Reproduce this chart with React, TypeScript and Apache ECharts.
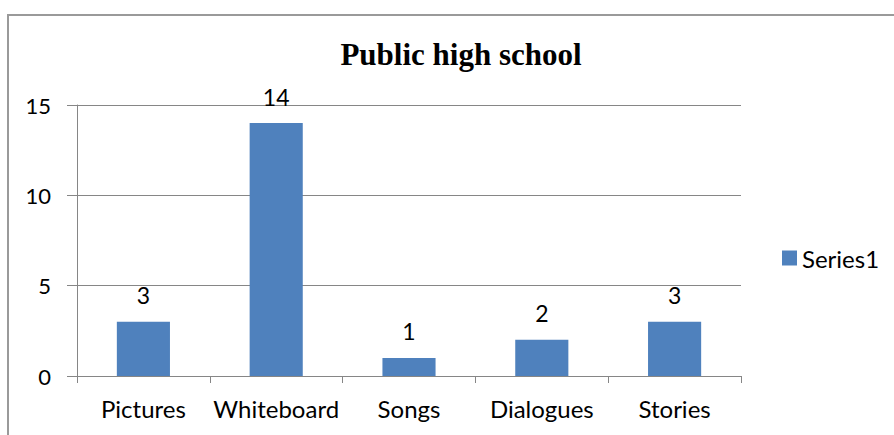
import React, { useEffect, useRef } from "react";
import * as echarts from "echarts";

const categories = ["Pictures", "Whiteboard", "Songs", "Dialogues", "Stories"];
const series1 = [3, 14, 1, 2, 3];
const yTicks = { min: 0, max: 15, interval: 5 };
const titleText = "Public high school";
const seriesName = "Series1";

export default function App() {
  const ref = useRef<HTMLDivElement>(null);
  useEffect(() => {
    if (!ref.current) return;
    const chart = echarts.init(ref.current, null, { renderer: "svg" });
    const sans = "Lato, Carlito, Calibri, sans-serif";
    chart.setOption({
      animation: false,
      backgroundColor: "#ffffff",
      title: {
        text: titleText,
        left: 456,
        textAlign: "center",
        top: 34,
        textStyle: {
          fontFamily: "'Liberation Serif', 'Times New Roman', serif",
          fontWeight: "bold",
          fontSize: 31,
          color: "#000",
        },
      },
      graphic: [
        {
          type: "rect",
          shape: { x: 8, y: 15, width: 1000, height: 1000 },
          style: { fill: "none", stroke: "#9a9a9a", lineWidth: 2 },
          silent: true,
          z: -1,
        },
      ],
      legend: {
        data: [seriesName],
        left: 782,
        top: 246,
        padding: 0,
        itemWidth: 15,
        itemHeight: 15,
        itemGap: 5,
        icon: "rect",
        textStyle: { fontFamily: sans, fontSize: 24, color: "#000", padding: [0, 0, 0, 0] },
      },
      grid: { left: 77, right: 153, top: 105, bottom: 59, containLabel: false },
      xAxis: {
        type: "category",
        data: categories,
        boundaryGap: true,
        axisLine: { show: true, lineStyle: { color: "#868686", width: 1 } },
        axisTick: { show: true, alignWithLabel: false, interval: 0, length: 7, lineStyle: { color: "#868686" } },
        axisLabel: { interval: 0, margin: 20, fontFamily: sans, fontSize: 24, color: "#000" },
        splitLine: { show: false },
      },
      yAxis: {
        type: "value",
        min: yTicks.min,
        max: yTicks.max,
        interval: yTicks.interval,
        axisLine: { show: true, lineStyle: { color: "#868686", width: 1 } },
        axisTick: { show: true, length: 10, lineStyle: { color: "#868686" } },
        axisLabel: { margin: 26, fontFamily: sans, fontSize: 22, color: "#000" },
        splitLine: { show: true, lineStyle: { color: "#868686", width: 1 } },
      },
      series: [
        {
          name: seriesName,
          type: "bar",
          data: series1,
          barWidth: "40%",
          itemStyle: { color: "#4F81BD" },
          label: {
            show: true,
            position: "top",
            distance: 15,
            fontFamily: sans,
            fontSize: 23,
            color: "#000",
          },
        },
      ],
    });
    return () => chart.dispose();
  }, []);
  return (
    <div
      ref={ref}
      style={{ position: "fixed", left: 0, top: 0, width: 894, height: 435, background: "#fff" }}
    />
  );
}
